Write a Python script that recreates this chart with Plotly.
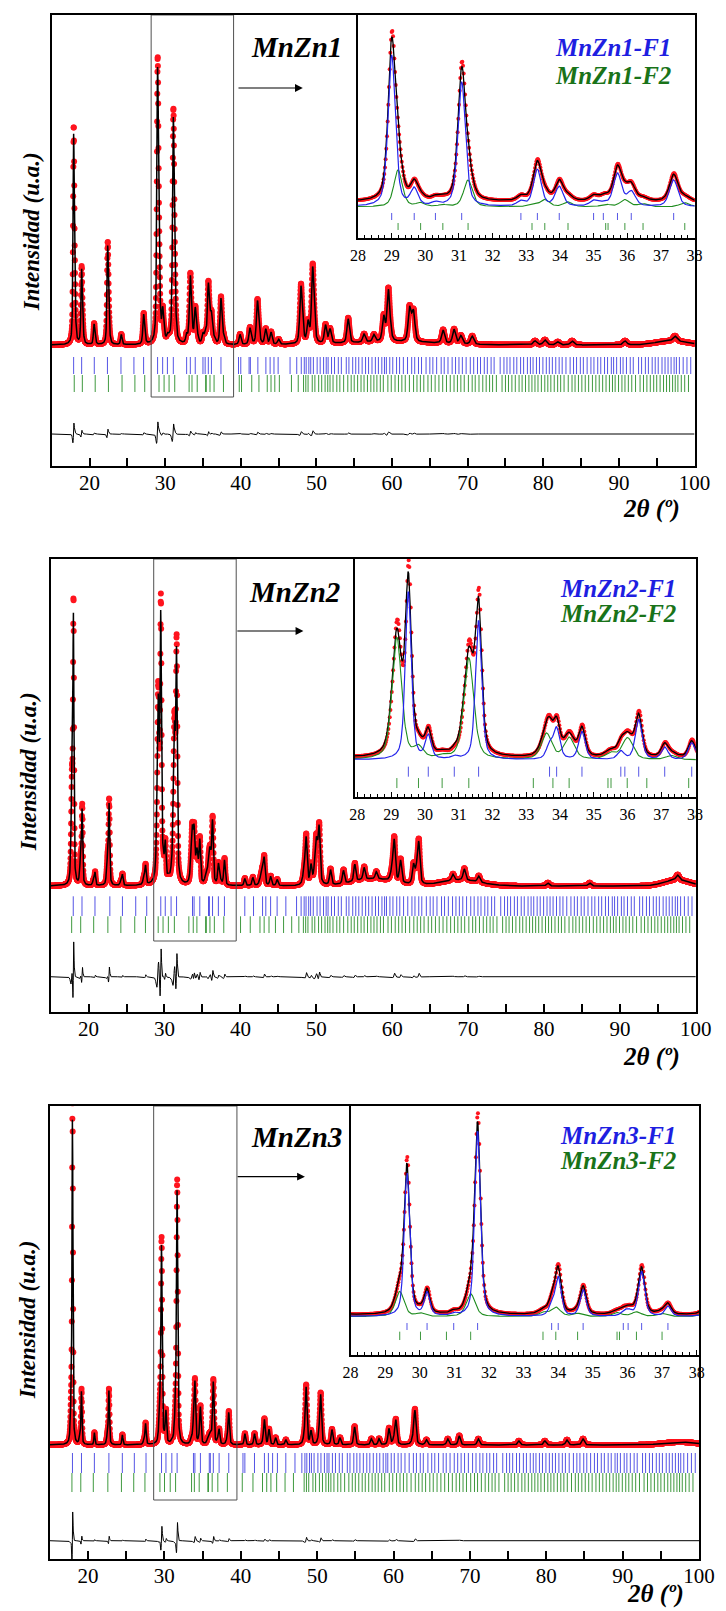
import numpy as np
import plotly.graph_objects as go

W, H = 726, 1611
SERIF = "Liberation Serif"

# 2-theta grid of the scans (degrees) and flat background level (counts)
two_theta = np.round(np.arange(15.0, 100.0001, 0.02), 3)
background = 1200.0

# ---------------- MnZn1 ----------------
mnzn1_f1_pos = [17.9, 18.95, 20.6, 22.4, 24.2, 27.15, 29.0, 29.67, 30.3, 31.08, 32.84, 33.33, 33.98,
                35.0, 35.29, 35.71, 36.12, 37.38, 39.9, 41.2, 42.2, 43.3, 44.0, 45.0, 47.95, 48.9, 49.5,
                51.2, 51.8, 54.2, 56.3, 57.6, 58.9, 59.5, 62.3, 62.85, 66.75, 68.2, 69.1, 70.6, 78.9,
                80.2, 81.9, 83.8, 90.8, 97.4]
mnzn1_f1_int = [1980, 700, 190, 920, 100, 270, 2550, 280, 50, 2100, 80, 620, 330,
                90, 50, 550, 240, 450, 100, 150, 400, 150, 120, 50, 520, 200, 700,
                180, 140, 240, 80, 70, 240, 450, 300, 250, 130, 140, 80, 80, 40,
                50, 30, 40, 40, 50]
mnzn1_f2_pos = [18.05, 19.1, 20.75, 22.55, 27.3, 29.19, 29.86, 30.52, 31.27, 33.17, 33.55, 34.24,
                35.36, 35.93, 36.47, 37.71, 41.4, 42.4, 48.15, 49.7, 59.7, 62.6]
mnzn1_f2_int = [380, 140, 40, 180, 60, 620, 60, 30, 450, 40, 120, 80,
                40, 120, 50, 70, 30, 80, 110, 120, 100, 100]
mnzn1_hump_pos = [60.0, 97.0]
mnzn1_hump_int = [30, 40]
mnzn1_hump_fwhm = [14.0, 5.0]
mnzn1_f1_refl = [17.9, 18.96, 20.63, 22.37, 24.16, 25.87, 27.15, 29.0, 29.67, 30.3, 31.08, 32.84,
                 33.33, 33.98, 35.0, 35.29, 35.71, 36.12, 37.38, 39.7, 40.0, 41.1, 41.27, 42.26,
                 43.32, 43.88, 44.39, 44.94, 46.52, 47.4]
mnzn1_f2_refl = [17.98, 19.05, 20.75, 22.5, 24.3, 26.0, 27.3, 29.19, 29.86, 30.52, 31.27, 33.17,
                 33.55, 34.24, 35.36, 35.43, 35.93, 36.47, 37.71, 39.8, 40.1, 41.45, 42.4, 43.5,
                 44.0, 44.5, 45.1, 46.7, 47.6]

# ---------------- MnZn2 ----------------
mnzn2_f1_pos = [18.0, 19.15, 20.85, 22.7, 24.46, 27.5, 29.51, 30.1, 30.87, 31.59, 33.69, 33.9, 34.65,
                35.8, 36.33, 37.1, 37.9, 40.58, 41.64, 42.9, 43.13, 43.98, 44.84, 48.67, 49.3, 50.38,
                51.87, 53.58, 55.07, 56.3, 57.9, 60.27, 61.1, 62.8, 63.5, 68.0, 69.5, 71.4, 80.5,
                86.0, 97.6]
mnzn2_f1_int = [2500, 700, 120, 750, 100, 170, 2490, 340, 40, 2065, 200, 450, 410,
                120, 590, 180, 250, 70, 80, 100, 260, 90, 60, 400, 180, 500,
                150, 130, 170, 120, 70, 350, 220, 170, 350, 60, 110, 60, 30,
                30, 50]
mnzn2_f2_pos = [17.8, 18.95, 20.65, 22.5, 24.26, 27.3, 29.17, 29.81, 30.51, 31.3, 33.6, 34.27,
                35.5, 36.0, 37.3, 42.7, 48.45, 50.0, 60.05, 63.25]
mnzn2_f2_int = [950, 250, 50, 250, 40, 70, 1800, 160, 40, 1500, 380, 320,
                90, 320, 60, 80, 150, 450, 120, 140]
mnzn2_hump_pos = [57.5, 69.0, 97.5]
mnzn2_hump_int = [70, 60, 60]
mnzn2_hump_fwhm = [6.0, 6.0, 4.0]
mnzn2_f1_refl = [17.98, 19.13, 20.84, 22.8, 24.46, 26.21, 27.66, 29.51, 30.1, 30.87, 31.59, 33.69,
                 33.9, 34.65, 35.8, 35.92, 36.33, 37.1, 37.9, 40.58, 41.73, 42.92, 43.35, 43.98,
                 44.84, 45.99, 47.4]
mnzn2_f2_refl = [17.77, 18.96, 20.67, 22.54, 24.25, 26.08, 27.49, 29.17, 29.81, 30.51, 31.3, 33.21,
                 33.79, 34.27, 35.42, 35.51, 35.99, 36.57, 37.81, 40.02, 41.3, 42.58, 43.13, 43.77,
                 44.62, 45.69, 46.76, 47.7]

# ---------------- MnZn3 ----------------
mnzn3_f1_pos = [17.97, 19.15, 20.84, 22.74, 24.5, 27.54, 29.63, 30.21, 30.98, 31.67, 33.81, 34.0,
                34.72, 35.9, 36.05, 36.41, 37.17, 38.43, 40.54, 41.8, 43.1, 43.7, 44.56, 45.9, 48.56,
                49.2, 50.46, 51.94, 52.99, 54.9, 57.1, 58.1, 59.4, 60.3, 62.8, 64.3, 67.1, 68.6, 71.1,
                76.4, 79.8, 82.7, 84.8]
mnzn3_f1_int = [3200, 520, 120, 520, 100, 200, 1900, 300, 30, 2450, 120, 510,
                350, 60, 60, 590, 130, 300, 110, 110, 220, 150, 70, 50, 520,
                130, 450, 150, 70, 180, 60, 60, 160, 220, 310, 50, 60, 90, 60,
                40, 40, 50, 60]
mnzn3_f2_pos = [17.8, 18.95, 22.55, 27.35, 29.42, 30.02, 31.47, 33.56, 33.93, 34.56, 35.7, 36.26,
                37.0, 38.25, 43.0, 48.4, 50.3, 60.1, 62.6]
mnzn3_f2_int = [350, 80, 90, 40, 330, 40, 300, 50, 120, 40, 50, 60,
                40, 50, 40, 90, 80, 50, 60]
mnzn3_hump_pos = [97.5]
mnzn3_hump_int = [30]
mnzn3_hump_fwhm = [5.0]
mnzn3_f1_refl = [17.97, 19.15, 20.84, 22.74, 24.5, 26.07, 27.6, 29.63, 30.21, 30.98, 31.67, 33.81,
                 34.0, 34.72, 35.88, 36.02, 36.41, 37.17, 38.43, 40.29, 40.54, 41.8, 43.1, 43.62,
                 44.17, 44.8, 45.9, 47.1]
mnzn3_f2_refl = [17.9, 19.06, 20.7, 22.6, 24.38, 25.99, 27.46, 29.42, 30.02, 30.77, 31.47, 33.56,
                 33.93, 34.56, 35.7, 35.77, 36.26, 37.0, 38.25, 40.2, 41.6, 42.85, 43.4, 43.95,
                 44.7, 45.8, 46.9]

# high-angle reflection markers shared by the three samples
refl_f1_high = [48.0, 48.4, 48.65, 49.0, 49.25, 49.6, 50.1, 50.5, 50.95, 51.3, 51.55, 52.0, 52.4, 52.9,
                53.3, 53.95, 54.3, 54.8, 55.2, 55.6, 56.05, 56.5, 56.9, 57.35, 57.8, 58.2, 58.65, 59.0,
                59.25, 59.7, 60.1, 60.6, 61.0, 61.5, 62.05, 62.6, 63.0, 63.5, 63.9, 64.5, 65.0, 65.4,
                65.9, 66.5, 66.9, 67.4, 67.95, 68.4, 68.85, 69.3, 69.8, 70.35, 70.8, 71.3, 71.7, 72.2,
                72.6, 73.1, 73.5, 74.3, 74.8, 75.2, 75.6, 76.1, 76.5, 77.0, 77.4, 77.9, 78.3, 78.65,
                79.1, 79.5, 79.95, 80.4, 80.8, 81.2, 81.65, 82.1, 82.5, 83.0, 83.55, 84.0, 84.4, 84.9,
                85.3, 85.8, 86.3, 86.7, 87.2, 87.6, 88.1, 88.5, 89.0, 89.3, 89.7, 90.2, 90.55, 91.0,
                91.5, 91.9, 92.6, 93.0, 93.5, 93.9, 94.4, 94.8, 95.2, 95.7, 96.1, 96.5, 96.9, 97.3,
                97.6, 98.0, 98.5, 99.0, 99.5]
refl_f2_high = [48.3, 48.6, 48.9, 49.45, 49.8, 50.3, 50.7, 51.15, 51.5, 51.8, 52.2, 52.7, 53.1, 53.6,
                54.15, 54.6, 55.0, 55.45, 55.9, 56.3, 56.75, 57.2, 57.6, 58.0, 58.45, 58.85, 59.45,
                59.9, 60.4, 60.85, 61.3, 61.75, 62.3, 62.85, 63.3, 63.75, 64.2, 64.75, 65.2, 65.7,
                66.2, 66.7, 67.2, 67.7, 68.2, 68.65, 69.1, 69.55, 70.1, 70.6, 71.0, 71.5, 72.0, 72.45,
                72.9, 73.3, 73.8, 74.55, 75.0, 75.4, 75.85, 76.3, 76.8, 77.2, 77.65, 78.1, 78.5, 78.9,
                79.3, 79.75, 80.2, 80.6, 81.0, 81.45, 81.9, 82.3, 82.75, 83.3, 83.8, 84.2, 84.65, 85.1,
                85.55, 86.0, 86.5, 86.95, 87.4, 87.85, 88.3, 88.75, 89.15, 89.5, 89.95, 90.4, 90.8,
                91.25, 91.7, 92.2, 92.8, 93.25, 93.7, 94.15, 94.6, 95.0, 95.45, 95.9, 96.3, 96.7, 97.1,
                97.45, 97.8, 98.25, 98.7, 99.2]

sample_names = ["MnZn1", "MnZn2", "MnZn3"]
# peak widths at 30 deg (FWHM, deg) for phases F1 / F2
fwhm_f1 = [0.26, 0.21, 0.19]
fwhm_f2 = [0.30, 0.34, 0.30]
# observed-pattern offset vs refined model: zero shift (deg) and width ratio
obs_shift = [0.006, 0.012, 0.008]
obs_width_ratio = [0.96, 0.93, 0.96]


def phase_profile(x, positions, intensities, w0, shift=0.0, width_ratio=1.0):
    pos = np.asarray(positions, dtype=float)[:, None] + shift
    amp = np.asarray(intensities, dtype=float)[:, None] / width_ratio
    fwhm = w0 * (1.0 + (pos - 30.0) / 50.0) * width_ratio
    d = (x[None, :] - pos) / fwhm
    return (amp * (0.5 / (1.0 + 4.0 * d * d) + 0.5 * np.exp(-4.0 * np.log(2.0) * d * d))).sum(axis=0)


def humps(x, positions, intensities, widths):
    pos = np.asarray(positions, dtype=float)[:, None]
    amp = np.asarray(intensities, dtype=float)[:, None]
    wid = np.asarray(widths, dtype=float)[:, None]
    d = (x[None, :] - pos) / wid
    return (amp * np.exp(-4.0 * np.log(2.0) * d * d)).sum(axis=0)


samples = [
    dict(f1=(mnzn1_f1_pos, mnzn1_f1_int), f2=(mnzn1_f2_pos, mnzn1_f2_int),
         hump=(mnzn1_hump_pos, mnzn1_hump_int, mnzn1_hump_fwhm),
         r1=mnzn1_f1_refl + refl_f1_high, r2=mnzn1_f2_refl + refl_f2_high),
    dict(f1=(mnzn2_f1_pos, mnzn2_f1_int), f2=(mnzn2_f2_pos, mnzn2_f2_int),
         hump=(mnzn2_hump_pos, mnzn2_hump_int, mnzn2_hump_fwhm),
         r1=mnzn2_f1_refl + refl_f1_high, r2=mnzn2_f2_refl + refl_f2_high),
    dict(f1=(mnzn3_f1_pos, mnzn3_f1_int), f2=(mnzn3_f2_pos, mnzn3_f2_int),
         hump=(mnzn3_hump_pos, mnzn3_hump_int, mnzn3_hump_fwhm),
         r1=mnzn3_f1_refl + refl_f1_high, r2=mnzn3_f2_refl + refl_f2_high),
]

# ---- page layout (pixels) ----
main_frames = [(45.2, 710.0, 15, 466), (44.1, 711.3, 559, 1012), (43.2, 714.7, 1106, 1559)]
inset_frames = [(362.0, 710.0, 15, 238), (358.5, 711.3, 559, 797), (354.3, 714.7, 1106, 1355)]
main_yrange = [(-10, 4500), (-60, 4470), (60, 4590)]
inset_yrange = [(594, 4348), (628, 4144), (674, 3950)]
inset_xrange = [(28.0, 38.0), (27.92, 38.02), (28.0, 38.07)]
diff_level = [310, 293, 243]
component_base = [1116, 1175, 1178]
main_tick_f1 = [(1080, 910), (1097, 900), (1120, 920)]
main_tick_f2 = [(900, 730), (897, 730), (920, 730)]
inset_tick_f1 = [(1015, 897), (1076, 928), (1095, 1003)]
inset_tick_f2 = [(846, 729), (908, 760), (981, 871)]
zoom_box = [(28.15, 39.05, 680), (28.58, 39.45, 650), (28.6, 39.5, 650)]
arrow_y = [3770, 3750, 3883]
arrow_x = [(39.5, 48.2), (39.4, 48.3), (39.4, 48.4)]
label_px = [(347, 47), (345, 592), (347, 1137)]
legend_px = [(688, 47, 75), (693, 588, 613), (693, 1135, 1160)]
ytitle_px = [(25, 232), (22, 772), (20, 1320)]
xtitle_px = [(697, 509), (697, 1057), (701, 1594)]

BLUE_TICK = "rgba(55,55,225,0.85)"
GREEN_TICK = "rgba(30,135,30,0.85)"
BLUE_LINE = "rgb(35,35,235)"
GREEN_LINE = "rgb(30,140,30)"
RED = "rgb(255,20,30)"


def tick_segments(positions, y_top, y_bottom):
    xs, ys = [], []
    for p in positions:
        xs += [p, p, None]
        ys += [y_top, y_bottom, None]
    return xs, ys


fig = go.Figure()
layout = dict(width=W, height=H, margin=dict(l=0, r=0, t=0, b=0), autosize=False,
              plot_bgcolor="white", paper_bgcolor="white", showlegend=False,
              font=dict(family=SERIF, color="black"))
shapes, annotations = [], []

for i, s in enumerate(samples):
    m, n = 2 * i + 1, 2 * i + 2
    xm = "x" if m == 1 else f"x{m}"
    ym = "y" if m == 1 else f"y{m}"
    xi, yi = f"x{n}", f"y{n}"

    bg = background + humps(two_theta, *s["hump"])
    calc_f1 = phase_profile(two_theta, *s["f1"], fwhm_f1[i])
    calc_f2 = phase_profile(two_theta, *s["f2"], fwhm_f2[i])
    obs = bg + phase_profile(two_theta, *s["f1"], fwhm_f1[i], obs_shift[i], obs_width_ratio[i]) \
        + phase_profile(two_theta, *s["f2"], fwhm_f2[i], obs_shift[i], obs_width_ratio[i])
    calc = bg + calc_f1 + calc_f2
    diff = obs - calc + diff_level[i]

    # main pattern
    fig.add_trace(go.Scatter(x=two_theta, y=obs, mode="markers", xaxis=xm, yaxis=ym,
                             marker=dict(size=6, color=RED, line=dict(width=0))))
    fig.add_trace(go.Scatter(x=two_theta, y=calc, mode="lines", xaxis=xm, yaxis=ym,
                             line=dict(color="black", width=1.5)))
    fig.add_trace(go.Scatter(x=two_theta, y=diff, mode="lines", xaxis=xm, yaxis=ym,
                             line=dict(color="black", width=1)))
    tx, ty = tick_segments(s["r1"], *main_tick_f1[i])
    fig.add_trace(go.Scatter(x=tx, y=ty, mode="lines", xaxis=xm, yaxis=ym,
                             line=dict(color=BLUE_TICK, width=1)))
    tx, ty = tick_segments(s["r2"], *main_tick_f2[i])
    fig.add_trace(go.Scatter(x=tx, y=ty, mode="lines", xaxis=xm, yaxis=ym,
                             line=dict(color=GREEN_TICK, width=1)))

    # inset: 28-38 deg with phase contributions
    sel = (two_theta > 27.5) & (two_theta < 38.5)
    fig.add_trace(go.Scatter(x=two_theta[sel], y=obs[sel], mode="markers", xaxis=xi, yaxis=yi,
                             marker=dict(size=4, color=RED, line=dict(width=0))))
    fig.add_trace(go.Scatter(x=two_theta[sel], y=calc[sel], mode="lines", xaxis=xi, yaxis=yi,
                             line=dict(color="black", width=1.3)))
    fig.add_trace(go.Scatter(x=two_theta[sel], y=calc_f2[sel] + component_base[i], mode="lines",
                             xaxis=xi, yaxis=yi, line=dict(color=GREEN_LINE, width=1.1)))
    fig.add_trace(go.Scatter(x=two_theta[sel], y=calc_f1[sel] + component_base[i], mode="lines",
                             xaxis=xi, yaxis=yi, line=dict(color=BLUE_LINE, width=1.2)))
    tx, ty = tick_segments(s["r1"], *inset_tick_f1[i])
    fig.add_trace(go.Scatter(x=tx, y=ty, mode="lines", xaxis=xi, yaxis=yi,
                             line=dict(color=BLUE_TICK, width=1)))
    tx, ty = tick_segments(s["r2"], *inset_tick_f2[i])
    fig.add_trace(go.Scatter(x=tx, y=ty, mode="lines", xaxis=xi, yaxis=yi,
                             line=dict(color=GREEN_TICK, width=1)))

    # axes
    x0, x1, y0, y1 = main_frames[i]
    key_x = "xaxis" if m == 1 else f"xaxis{m}"
    key_y = "yaxis" if m == 1 else f"yaxis{m}"
    layout[key_x] = dict(domain=[x0 / W, x1 / W], anchor=ym, range=[15, 100],
                         showline=True, mirror=True, linecolor="black", linewidth=2,
                         ticks="inside", ticklen=8, tickwidth=1.5, tickcolor="black",
                         tickvals=list(range(20, 101, 5)),
                         ticktext=[str(v) if v % 10 == 0 else "" for v in range(20, 101, 5)],
                         tickfont=dict(family=SERIF, size=21, color="black"),
                         ticklabelstandoff=-3, showgrid=False, zeroline=False)
    layout[key_y] = dict(domain=[1 - y1 / H, 1 - y0 / H], anchor=xm, range=list(main_yrange[i]),
                         showline=True, mirror=True, linecolor="black", linewidth=2,
                         ticks="", showticklabels=False, showgrid=False, zeroline=False)

    x0, x1, y0, y1 = inset_frames[i]
    layout[f"xaxis{n}"] = dict(domain=[x0 / W, x1 / W], anchor=yi, range=list(inset_xrange[i]),
                               showline=True, mirror=True, linecolor="black", linewidth=2,
                               ticks="inside", ticklen=5, tickwidth=1, tickcolor="black",
                               tickmode="linear", tick0=28, dtick=1,
                               minor=dict(dtick=0.2, ticks="inside", ticklen=3, tickcolor="black",
                                          showgrid=False),
                               tickfont=dict(family=SERIF, size=16, color="black"),
                               ticklabelstandoff=2, showgrid=False, zeroline=False)
    layout[f"yaxis{n}"] = dict(domain=[1 - y1 / H, 1 - y0 / H], anchor=xi, range=list(inset_yrange[i]),
                               showline=True, mirror=True, linecolor="black", linewidth=2,
                               ticks="", showticklabels=False, showgrid=False, zeroline=False)

    # zoom window and arrow
    bx0, bx1, by0 = zoom_box[i]
    shapes.append(dict(type="rect", xref=xm, yref=ym, x0=bx0, x1=bx1, y0=by0, y1=main_yrange[i][1],
                       line=dict(color="rgb(80,80,80)", width=1)))
    annotations.append(dict(xref=xm, yref=ym, axref=xm, ayref=ym, x=arrow_x[i][1], y=arrow_y[i],
                            ax=arrow_x[i][0], ay=arrow_y[i], text="", showarrow=True,
                            arrowhead=2, arrowsize=1.3, arrowwidth=1.2, arrowcolor="black"))

    # texts
    lx, ly = label_px[i]
    annotations.append(dict(xref="paper", yref="paper", x=lx / W, y=1 - ly / H, xanchor="right",
                            yanchor="middle", showarrow=False,
                            text=f"<b><i>{sample_names[i]}</i></b>",
                            font=dict(family=SERIF, size=29, color="black")))
    gx, gy1, gy2 = legend_px[i]
    annotations.append(dict(xref="paper", yref="paper", x=gx / W, y=1 - gy1 / H, xanchor="right",
                            yanchor="middle", showarrow=False,
                            text=f"<b><i>{sample_names[i]}-F1</i></b>",
                            font=dict(family=SERIF, size=25, color="rgb(30,30,225)")))
    annotations.append(dict(xref="paper", yref="paper", x=gx / W, y=1 - gy2 / H, xanchor="right",
                            yanchor="middle", showarrow=False,
                            text=f"<b><i>{sample_names[i]}-F2</i></b>",
                            font=dict(family=SERIF, size=25, color="rgb(25,115,25)")))
    tx_, ty_ = ytitle_px[i]
    annotations.append(dict(xref="paper", yref="paper", x=tx_ / W, y=1 - ty_ / H, xanchor="center",
                            yanchor="middle", showarrow=False, textangle=-90,
                            text="<b><i>Intensidad (u.a.)</i></b>",
                            font=dict(family=SERIF, size=23, color="black")))
    ax_, ay_ = xtitle_px[i]
    annotations.append(dict(xref="paper", yref="paper", x=ax_ / W, y=1 - ay_ / H, xanchor="right",
                            yanchor="middle", showarrow=False,
                            text="<b><i>2θ (º)</i></b>",
                            font=dict(family=SERIF, size=25, color="black")))

layout["shapes"] = shapes
layout["annotations"] = annotations
fig.update_layout(**layout)
fig.write_html("out.html")
